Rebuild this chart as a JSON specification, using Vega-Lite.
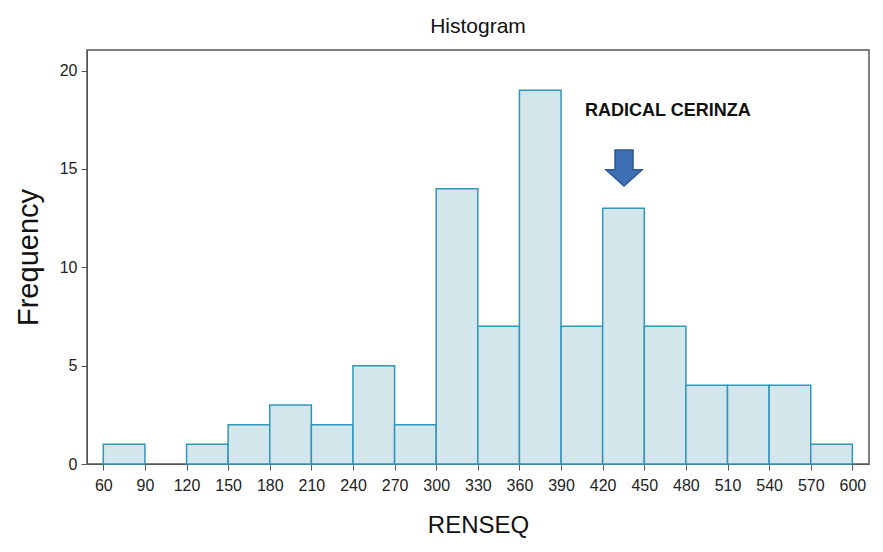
{
  "$schema": "https://vega.github.io/schema/vega-lite/v6.json",
  "autosize": "none",
  "width": 782,
  "height": 414,
  "padding": {"left": 87, "top": 50, "right": 14, "bottom": 88},
  "background": "white",
  "config": {
    "font": "Liberation Sans",
    "view": {"stroke": "#555555", "strokeWidth": 1.5},
    "axis": {"grid": false, "domainColor": "#555555", "tickColor": "#555555", "labelColor": "#222222", "titleColor": "#111111", "labelFontSize": 16, "tickSize": 6, "labelFont": "Liberation Sans", "titleFont": "Liberation Sans", "titleFontWeight": "normal"}
  },
  "title": {"text": "Histogram", "fontSize": 21, "fontWeight": "normal", "color": "#111111", "offset": 13, "font": "Liberation Sans"},
  "datasets": {
    "bins": [
      {"start": 60, "end": 90, "count": 1},
      {"start": 120, "end": 150, "count": 1},
      {"start": 150, "end": 180, "count": 2},
      {"start": 180, "end": 210, "count": 3},
      {"start": 210, "end": 240, "count": 2},
      {"start": 240, "end": 270, "count": 5},
      {"start": 270, "end": 300, "count": 2},
      {"start": 300, "end": 330, "count": 14},
      {"start": 330, "end": 360, "count": 7},
      {"start": 360, "end": 390, "count": 19},
      {"start": 390, "end": 420, "count": 7},
      {"start": 420, "end": 450, "count": 13},
      {"start": 450, "end": 480, "count": 7},
      {"start": 480, "end": 510, "count": 4},
      {"start": 510, "end": 540, "count": 4},
      {"start": 540, "end": 570, "count": 4},
      {"start": 570, "end": 600, "count": 1}
    ],
    "note": [
      {"x": 467, "y": 17.95, "label": "RADICAL CERINZA"}
    ],
    "arrow": [
      {"x": 435.4, "y": 15.05}
    ]
  },
  "layer": [
    {
      "data": {"name": "bins"},
      "mark": {"type": "rect", "fill": "#d3e6eb", "stroke": "#2f97bb", "strokeWidth": 1.5},
      "encoding": {
        "x": {"field": "start", "type": "quantitative", "scale": {"domain": [48.25, 612], "nice": false, "zero": false},
          "axis": {"values": [60,90,120,150,180,210,240,270,300,330,360,390,420,450,480,510,540,570,600], "title": "RENSEQ", "titleFontSize": 24, "titlePadding": 20, "labelPadding": 7, "labelFlush": false}},
        "x2": {"field": "end"},
        "y": {"field": "count", "type": "quantitative", "scale": {"domain": [0, 21.05], "nice": false},
          "axis": {"values": [0,5,10,15,20], "title": "Frequency", "titleFontSize": 29, "titlePadding": 16, "labelPadding": 4}},
        "y2": {"datum": 0}
      }
    },
    {
      "data": {"name": "note"},
      "mark": {"type": "text", "fontSize": 18, "fontWeight": "bold", "color": "#111111", "font": "Liberation Sans"},
      "encoding": {
        "x": {"field": "x", "type": "quantitative"},
        "y": {"field": "y", "type": "quantitative"},
        "text": {"field": "label"}
      }
    },
    {
      "data": {"name": "arrow"},
      "mark": {"type": "point", "filled": true, "shape": "M -0.5 -1 L 0.5 -1 L 0.5 0.1 L 1 0.1 L 0 1 L -1 0.1 L -0.5 0.1 Z", "size": 1300, "fill": "#3f70b4", "stroke": "#2d5790", "strokeWidth": 1.5, "opacity": 1},
      "encoding": {
        "x": {"field": "x", "type": "quantitative"},
        "y": {"field": "y", "type": "quantitative"}
      }
    }
  ]
}
